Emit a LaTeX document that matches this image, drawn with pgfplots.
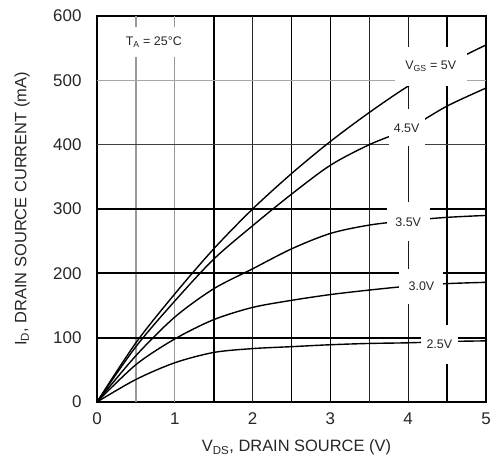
\documentclass[border=0pt]{standalone}
\usepackage{pgfplots}
\pgfplotsset{compat=1.18}
\usepackage{fontspec}
\setmainfont{Liberation Sans}
\begin{document}
\begin{tikzpicture}
\begin{axis}[
  scale only axis, width=389bp, height=386bp,
  xmin=0, xmax=5, ymin=0, ymax=600,
  xtick={0,1,2,3,4,5}, ytick={0,100,200,300,400,500,600},
  major tick length=0pt,
  axis line style={line width=2.4pt},
  /pgf/number format/assume math mode=true,
  tick label style={font=\fontsize{17}{19}\selectfont, text=black!85},
  xticklabel style={yshift=-7bp},
  yticklabel style={xshift=-12bp},
  clip=false,
]
\coordinate (SW) at (rel axis cs:0,0);
\coordinate (NE) at (rel axis cs:1,1);
\coordinate (YL) at (rel axis cs:0,0.5);
\coordinate (XL) at (rel axis cs:0.5,0);
% grid
\draw[black!40, line width=1.3pt] (axis cs:0.5,0) -- (axis cs:0.5,600);
\draw[black!40, line width=1.3pt] (axis cs:1,0) -- (axis cs:1,600);
\draw[black, line width=1.8pt] (axis cs:1.5,0) -- (axis cs:1.5,600);
\draw[black!85, line width=1.1pt] (axis cs:2,0) -- (axis cs:2,600);
\draw[black, line width=1.8pt] (axis cs:2.5,0) -- (axis cs:2.5,600);
\draw[black, line width=1.8pt] (axis cs:3,0) -- (axis cs:3,600);
\draw[black!85, line width=1.1pt] (axis cs:3.5,0) -- (axis cs:3.5,600);
\draw[black!90, line width=1.3pt] (axis cs:4,0) -- (axis cs:4,600);
\draw[black, line width=1.8pt] (axis cs:4.5,0) -- (axis cs:4.5,600);
\draw[black, line width=2pt] (axis cs:0,100) -- (axis cs:5,100);
\draw[black, line width=2pt] (axis cs:0,200) -- (axis cs:5,200);
\draw[black, line width=2pt] (axis cs:0,300) -- (axis cs:5,300);
\draw[black!75, line width=1.2pt] (axis cs:0,400) -- (axis cs:5,400);
\draw[black!35, line width=1.3pt] (axis cs:0,500) -- (axis cs:5,500);
% curves
\addplot[black, line width=1.4pt, smooth] coordinates {
 (0,0) (0.5,92) (1,168) (1.5,238) (2,300) (2.5,355) (3,405) (3.5,450) (4,491) (4.5,525) (5,555)};
\addplot[black, line width=1.4pt, smooth] coordinates {
 (0,0) (0.5,86) (1,157) (1.5,222) (2,274) (2.5,323) (3,368) (3.5,400) (4,425) (4.5,460) (5,488)};
\addplot[black, line width=1.4pt, smooth] coordinates {
 (0,0) (0.5,72) (1,132) (1.5,176) (2,207) (2.5,238) (3,262) (3.5,275) (4,282) (4.5,287) (5,290)};
\addplot[black, line width=1.4pt, smooth] coordinates {
 (0,0) (0.5,58) (1,98) (1.5,128) (2,147) (2.5,158) (3,167) (3.5,174) (4,180) (4.5,184) (5,186)};
\addplot[black, line width=1.4pt, smooth] coordinates {
 (0,0) (0.5,35) (1,61) (1.5,77) (2,83) (2.5,86) (3,89) (3.5,91) (4,92) (4.5,94) (5,95)};
% labels
\tikzset{lab/.style={fill=white, text=black!85, font=\fontsize{12.5}{14}\selectfont, inner sep=0pt}}
\node[lab, minimum width=72bp, minimum height=39bp] at (axis cs:4.29,522) {V$_{\mathrm{GS}}$ = 5V};
\node[lab, minimum width=36bp, minimum height=37bp] at (axis cs:3.98,426) {4.5V};
\node[lab, minimum width=43bp, minimum height=39bp] at (axis cs:4.0,280) {3.5V};
\node[lab, minimum width=44bp, minimum height=35bp] at (axis cs:4.17,180) {3.0V};
\node[lab, minimum width=37bp, minimum height=39bp] at (axis cs:4.40,90) {2.5V};
\node[lab, minimum width=66bp, minimum height=30bp] at (axis cs:0.73,560) {T$_{\mathrm{A}}$ = 25°C};
\end{axis}
\path (YL) ++(-75bp,0) node[rotate=90, font=\fontsize{16.5}{18}\selectfont, text=black!85] {I$_{\mathrm{D}}$, DRAIN SOURCE CURRENT (mA)};
\path (XL) ++(5bp,-50bp) node[anchor=base, font=\fontsize{16.5}{18}\selectfont, text=black!85] {V$_{\mathrm{DS}}$, DRAIN SOURCE (V)};
\pgfresetboundingbox
\useasboundingbox (SW) ++(-97bp,-57bp) rectangle ([xshift=6bp,yshift=16bp]NE);
\end{tikzpicture}
\end{document}
